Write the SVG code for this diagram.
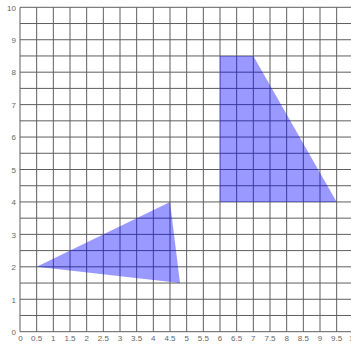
<svg xmlns="http://www.w3.org/2000/svg" width="351" height="345" viewBox="0 0 351 345">
<style>
.g{stroke:#5e5e5e;stroke-width:1;fill:none}
.sh{fill:#0000ff;fill-opacity:0.4;stroke:none}
text{font-family:"Liberation Sans",Arial,sans-serif;font-size:8px;fill:#666}
.yl{text-anchor:end}
.xl{text-anchor:middle}
</style>
<rect width="351" height="345" fill="#fff"/>
<g id="grid">
<path class="g" d="M20 7.3V331.7M36.67 7.3V331.7M53.33 7.3V331.7M70 7.3V331.7M86.67 7.3V331.7M103.33 7.3V331.7M120 7.3V331.7M136.67 7.3V331.7M153.33 7.3V331.7M170 7.3V331.7M186.67 7.3V331.7M203.33 7.3V331.7M220 7.3V331.7M236.67 7.3V331.7M253.33 7.3V331.7M270 7.3V331.7M286.67 7.3V331.7M303.33 7.3V331.7M320 7.3V331.7M336.67 7.3V331.7"/>
<path class="g" d="M20 331.7H351M20 315.48H351M20 299.26H351M20 283.04H351M20 266.82H351M20 250.6H351M20 234.38H351M20 218.16H351M20 201.94H351M20 185.72H351M20 169.5H351M20 153.28H351M20 137.06H351M20 120.84H351M20 104.62H351M20 88.4H351M20 72.18H351M20 55.96H351M20 39.74H351M20 23.52H351M20 7.3H351"/>
</g>
<g id="shapes">
<polygon id="quad" class="sh" points="220,201.94 220,55.96 253.33,55.96 336.67,201.94"/>
<polygon id="tri" class="sh" points="36.67,266.82 170,201.94 180,283.04"/>
</g>
<g id="ylabels">
<text class="yl" x="16" y="335">0</text>
<text class="yl" x="16" y="302.5">1</text>
<text class="yl" x="16" y="270">2</text>
<text class="yl" x="16" y="237.6">3</text>
<text class="yl" x="16" y="205.2">4</text>
<text class="yl" x="16" y="172.7">5</text>
<text class="yl" x="16" y="140.3">6</text>
<text class="yl" x="16" y="107.8">7</text>
<text class="yl" x="16" y="75.4">8</text>
<text class="yl" x="16" y="43">9</text>
<text class="yl" x="16" y="10.5">10</text>
</g>
<g id="xlabels">
<text class="xl" x="20.5" y="341">0</text>
<text class="xl" x="36.67" y="341">0.5</text>
<text class="xl" x="53.33" y="341">1</text>
<text class="xl" x="70" y="341">1.5</text>
<text class="xl" x="86.67" y="341">2</text>
<text class="xl" x="103.33" y="341">2.5</text>
<text class="xl" x="120" y="341">3</text>
<text class="xl" x="136.67" y="341">3.5</text>
<text class="xl" x="153.33" y="341">4</text>
<text class="xl" x="170" y="341">4.5</text>
<text class="xl" x="186.67" y="341">5</text>
<text class="xl" x="203.33" y="341">5.5</text>
<text class="xl" x="220" y="341">6</text>
<text class="xl" x="236.67" y="341">6.5</text>
<text class="xl" x="253.33" y="341">7</text>
<text class="xl" x="270" y="341">7.5</text>
<text class="xl" x="286.67" y="341">8</text>
<text class="xl" x="303.33" y="341">8.5</text>
<text class="xl" x="320" y="341">9</text>
<text class="xl" x="336.67" y="341">9.5</text>
<text class="xl" x="353.33" y="341">10</text>
</g>
</svg>
